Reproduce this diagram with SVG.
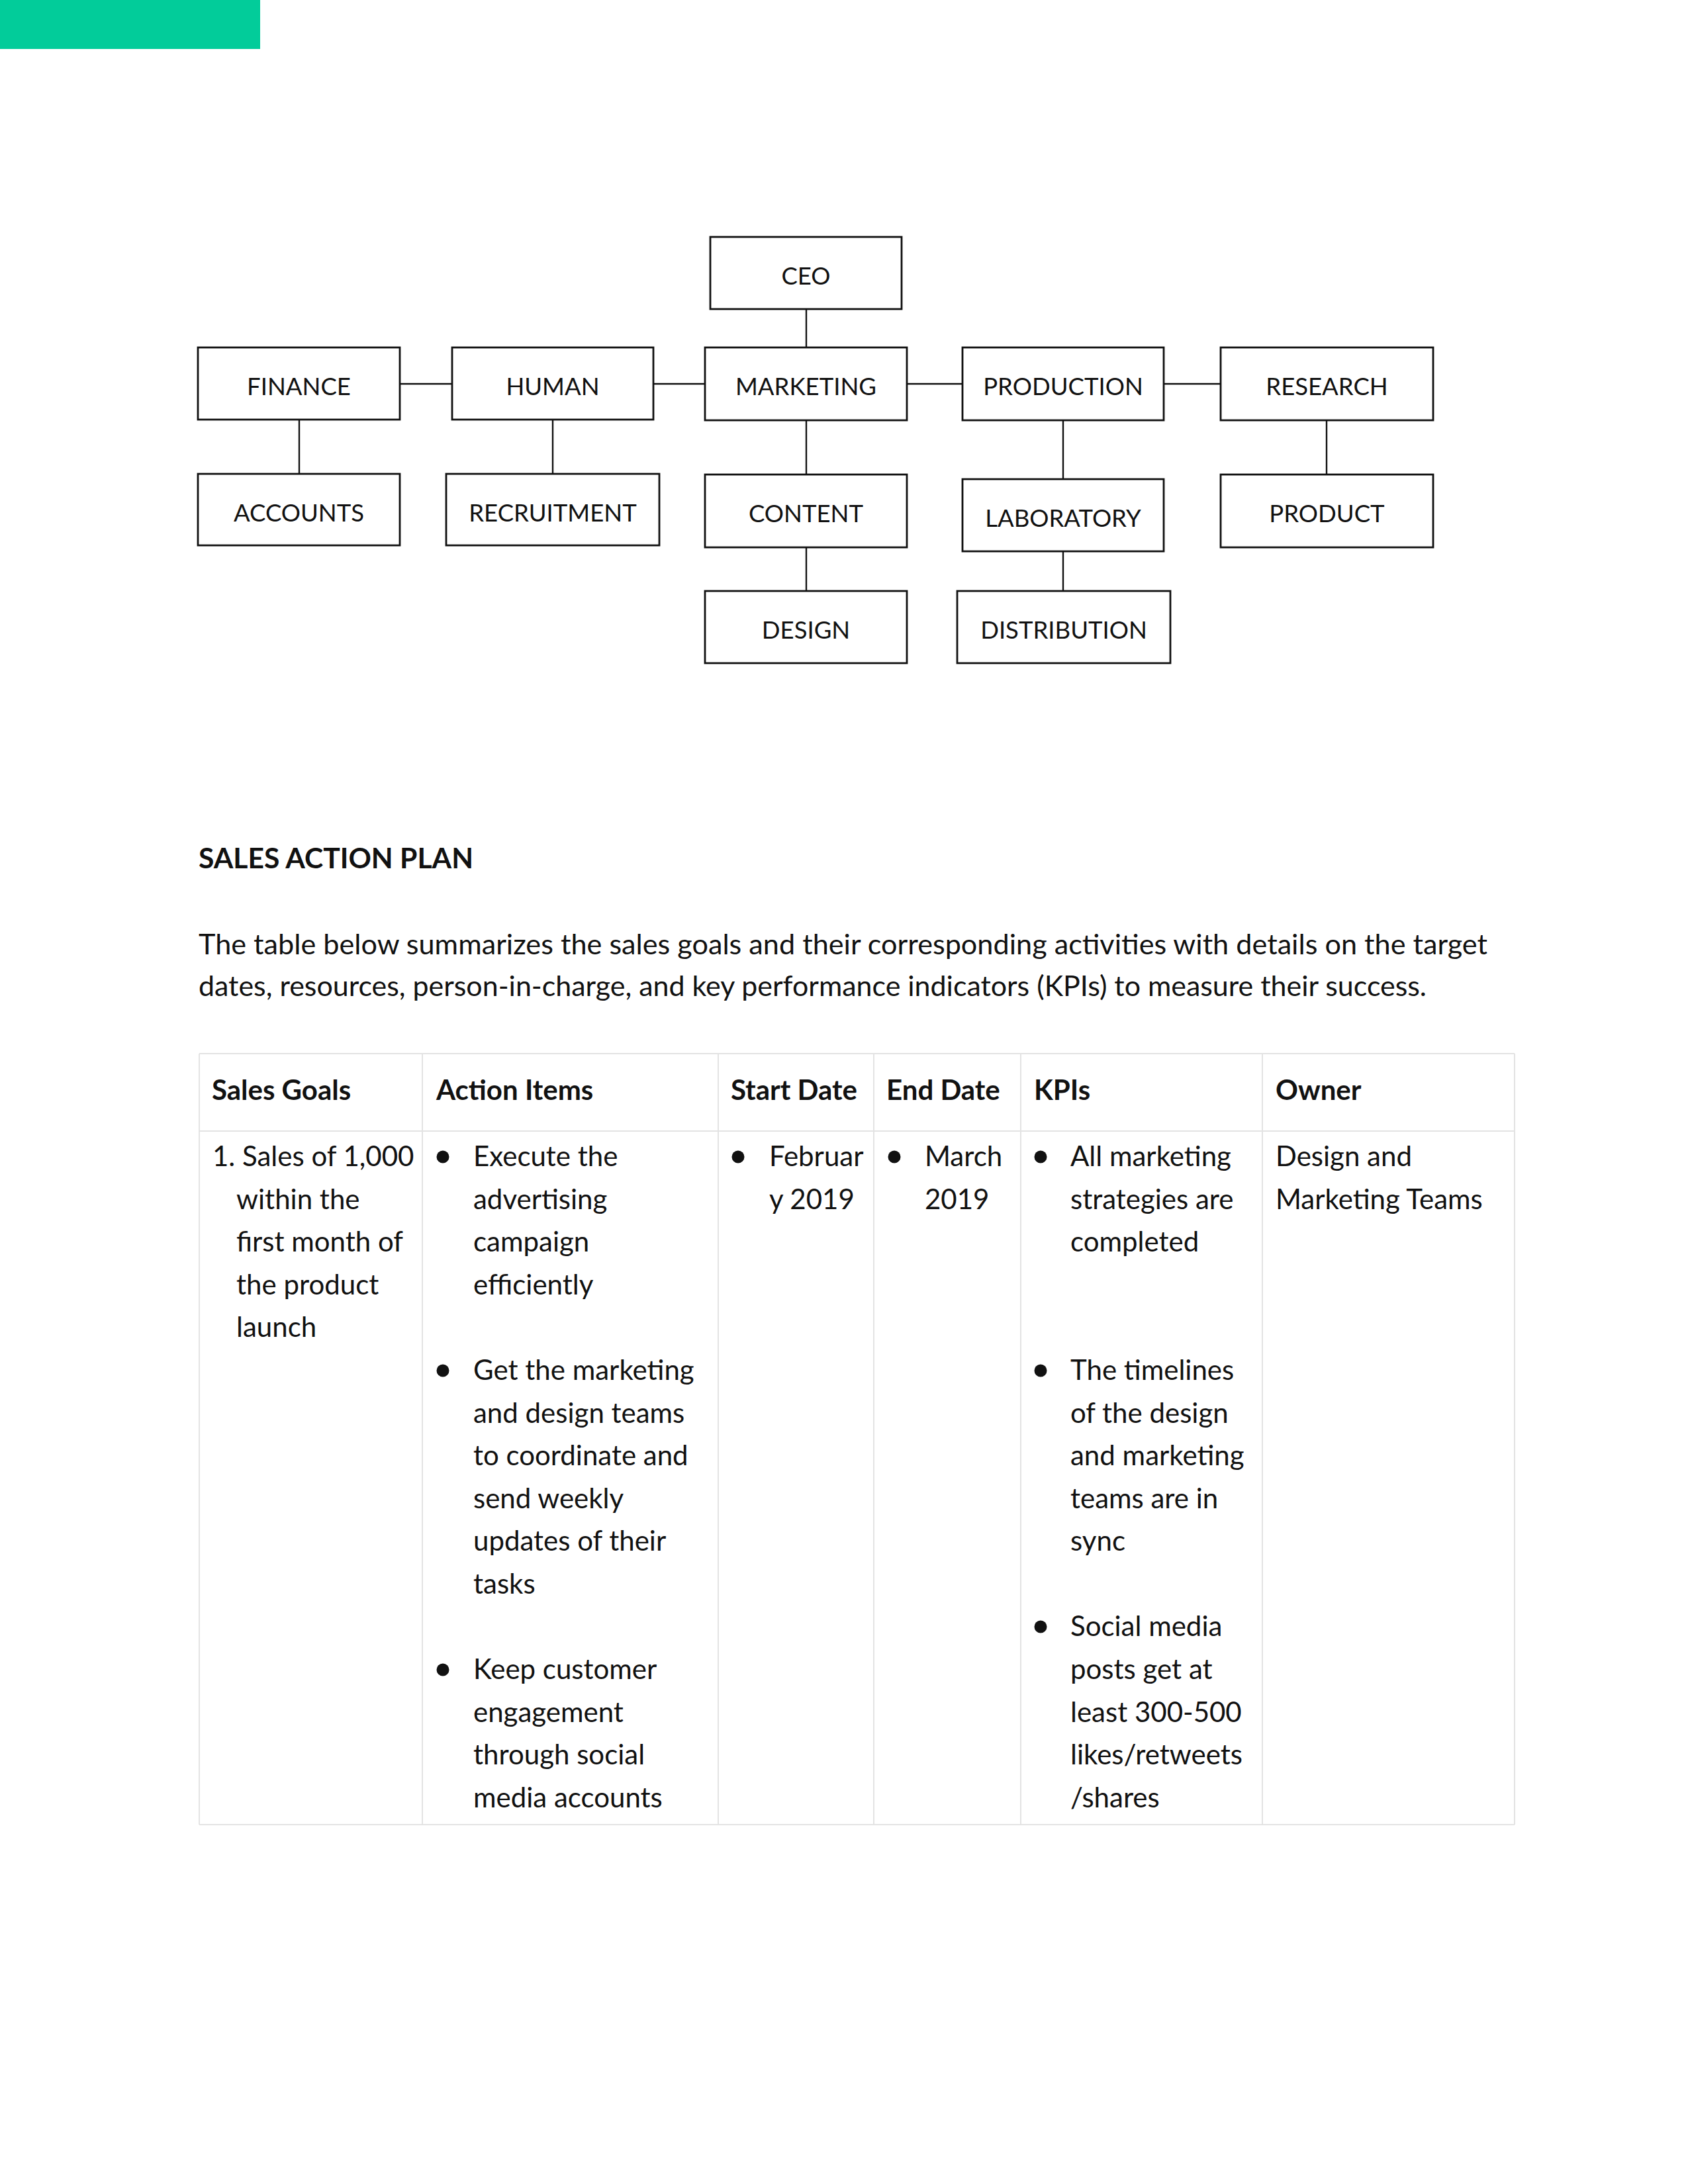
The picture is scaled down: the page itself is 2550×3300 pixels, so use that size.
<svg xmlns="http://www.w3.org/2000/svg" width="2550" height="3300" viewBox="0 0 2550 3300">
<style>
.bg{fill:#ffffff}
.box{fill:#ffffff;stroke:#111111;stroke-width:2.8}
.lbl{font-family:Lato,"Open Sans","Liberation Sans",sans-serif;font-size:36.5px;fill:#111111;text-anchor:middle}
.conn line{stroke:#111111;stroke-width:2.4}
.h{font-family:Lato,"Liberation Sans",sans-serif;font-size:42px;font-weight:bold;fill:#111111}
.t{font-family:Lato,"Liberation Sans",sans-serif;font-size:42px;fill:#111111}
.grid line{stroke:#e3e3e3;stroke-width:2}
.dot{fill:#111111}
</style>
<rect class="bg" x="0" y="0" width="2550" height="3300"/>
<rect x="0" y="0" width="393" height="74" fill="#02cc9a"/>

<g id="connectors" class="conn">
<line x1="1218" y1="467" x2="1218" y2="525"/>
<line x1="604" y1="580" x2="683" y2="580"/>
<line x1="987" y1="580" x2="1065" y2="580"/>
<line x1="1370" y1="580" x2="1454" y2="580"/>
<line x1="1758" y1="580" x2="1844" y2="580"/>
<line x1="452" y1="634" x2="452" y2="716"/>
<line x1="835" y1="634" x2="835" y2="716"/>
<line x1="1218" y1="635" x2="1218" y2="717"/>
<line x1="1606" y1="635" x2="1606" y2="724"/>
<line x1="2004" y1="635" x2="2004" y2="717"/>
<line x1="1218" y1="827" x2="1218" y2="893"/>
<line x1="1606" y1="833" x2="1606" y2="893"/>
</g>

<g id="ceo"><rect class="box" x="1073" y="358" width="289" height="109"/><text class="lbl" x="1217.5" y="430">CEO</text></g>
<g id="finance"><rect class="box" x="299" y="525" width="305" height="109"/><text class="lbl" x="451.5" y="597">FINANCE</text></g>
<g id="human"><rect class="box" x="683" y="525" width="304" height="109"/><text class="lbl" x="835" y="597">HUMAN</text></g>
<g id="marketing"><rect class="box" x="1065" y="525" width="305" height="110"/><text class="lbl" x="1217.5" y="597">MARKETING</text></g>
<g id="production"><rect class="box" x="1454" y="525" width="304" height="110"/><text class="lbl" x="1606" y="597">PRODUCTION</text></g>
<g id="research"><rect class="box" x="1844" y="525" width="321" height="110"/><text class="lbl" x="2004.5" y="597">RESEARCH</text></g>
<g id="accounts"><rect class="box" x="299" y="716" width="305" height="108"/><text class="lbl" x="451.5" y="788">ACCOUNTS</text></g>
<g id="recruitment"><rect class="box" x="674" y="716" width="322" height="108"/><text class="lbl" x="835" y="788">RECRUITMENT</text></g>
<g id="content"><rect class="box" x="1065" y="717" width="305" height="110"/><text class="lbl" x="1217.5" y="789">CONTENT</text></g>
<g id="laboratory"><rect class="box" x="1454" y="724" width="304" height="109"/><text class="lbl" x="1606" y="796">LABORATORY</text></g>
<g id="product"><rect class="box" x="1844" y="717" width="321" height="110"/><text class="lbl" x="2004.5" y="789">PRODUCT</text></g>
<g id="design"><rect class="box" x="1065" y="893" width="305" height="109"/><text class="lbl" x="1217.5" y="965">DESIGN</text></g>
<g id="distribution"><rect class="box" x="1446" y="893" width="322" height="109"/><text class="lbl" x="1607" y="965">DISTRIBUTION</text></g>

<text class="h" x="300" y="1312" textLength="415" lengthAdjust="spacingAndGlyphs">SALES ACTION PLAN</text>
<text class="t" x="300" y="1442" textLength="1947" lengthAdjust="spacingAndGlyphs">The table below summarizes the sales goals and their corresponding activities with details on the target</text>
<text class="t" x="300" y="1505" textLength="1855" lengthAdjust="spacingAndGlyphs">dates, resources, person-in-charge, and key performance indicators (KPIs) to measure their success.</text>

<g class="grid">
<line x1="301" y1="1592" x2="2288" y2="1592"/>
<line x1="301" y1="1709" x2="2288" y2="1709"/>
<line x1="301" y1="2757" x2="2288" y2="2757"/>
<line x1="301" y1="1592" x2="301" y2="2757"/>
<line x1="638" y1="1592" x2="638" y2="2757"/>
<line x1="1085" y1="1592" x2="1085" y2="2757"/>
<line x1="1320" y1="1592" x2="1320" y2="2757"/>
<line x1="1542" y1="1592" x2="1542" y2="2757"/>
<line x1="1907" y1="1592" x2="1907" y2="2757"/>
<line x1="2288" y1="1592" x2="2288" y2="2757"/>
</g>

<text class="h" x="320" y="1662">Sales Goals</text>
<text class="h" x="659" y="1662">Action Items</text>
<text class="h" x="1104" y="1662">Start Date</text>
<text class="h" x="1339" y="1662">End Date</text>
<text class="h" x="1562" y="1662">KPIs</text>
<text class="h" x="1927" y="1662">Owner</text>

<text class="t" x="321" y="1762">1.</text>
<text class="t" x="366" y="1762">Sales of 1,000</text>
<text class="t" x="357" y="1826.6">within the</text>
<text class="t" x="357" y="1891.2">first month of</text>
<text class="t" x="357" y="1955.8">the product</text>
<text class="t" x="357" y="2020.4">launch</text>

<circle class="dot" cx="669" cy="1748" r="9.5"/>
<text class="t" x="715" y="1762">Execute the</text>
<text class="t" x="715" y="1826.6">advertising</text>
<text class="t" x="715" y="1891.2">campaign</text>
<text class="t" x="715" y="1955.8">efficiently</text>
<circle class="dot" cx="669" cy="2071" r="9.5"/>
<text class="t" x="715" y="2085">Get the marketing</text>
<text class="t" x="715" y="2149.6">and design teams</text>
<text class="t" x="715" y="2214.2">to coordinate and</text>
<text class="t" x="715" y="2278.8">send weekly</text>
<text class="t" x="715" y="2343.4">updates of their</text>
<text class="t" x="715" y="2408">tasks</text>
<circle class="dot" cx="669" cy="2523" r="9.5"/>
<text class="t" x="715" y="2537">Keep customer</text>
<text class="t" x="715" y="2601.6">engagement</text>
<text class="t" x="715" y="2666.2">through social</text>
<text class="t" x="715" y="2730.8">media accounts</text>

<circle class="dot" cx="1115" cy="1748" r="9.5"/>
<text class="t" x="1162" y="1762">Februar</text>
<text class="t" x="1162" y="1826.6">y 2019</text>

<circle class="dot" cx="1351" cy="1748" r="9.5"/>
<text class="t" x="1397" y="1762">March</text>
<text class="t" x="1397" y="1826.6">2019</text>

<circle class="dot" cx="1572" cy="1748" r="9.5"/>
<text class="t" x="1617" y="1762">All marketing</text>
<text class="t" x="1617" y="1826.6">strategies are</text>
<text class="t" x="1617" y="1891.2">completed</text>
<circle class="dot" cx="1572" cy="2071" r="9.5"/>
<text class="t" x="1617" y="2085">The timelines</text>
<text class="t" x="1617" y="2149.6">of the design</text>
<text class="t" x="1617" y="2214.2">and marketing</text>
<text class="t" x="1617" y="2278.8">teams are in</text>
<text class="t" x="1617" y="2343.4">sync</text>
<circle class="dot" cx="1572" cy="2458" r="9.5"/>
<text class="t" x="1617" y="2472.4">Social media</text>
<text class="t" x="1617" y="2537">posts get at</text>
<text class="t" x="1617" y="2601.6">least 300-500</text>
<text class="t" x="1617" y="2666.2">likes/retweets</text>
<text class="t" x="1617" y="2730.8">/shares</text>

<text class="t" x="1927" y="1762">Design and</text>
<text class="t" x="1927" y="1826.6">Marketing Teams</text>
</svg>
